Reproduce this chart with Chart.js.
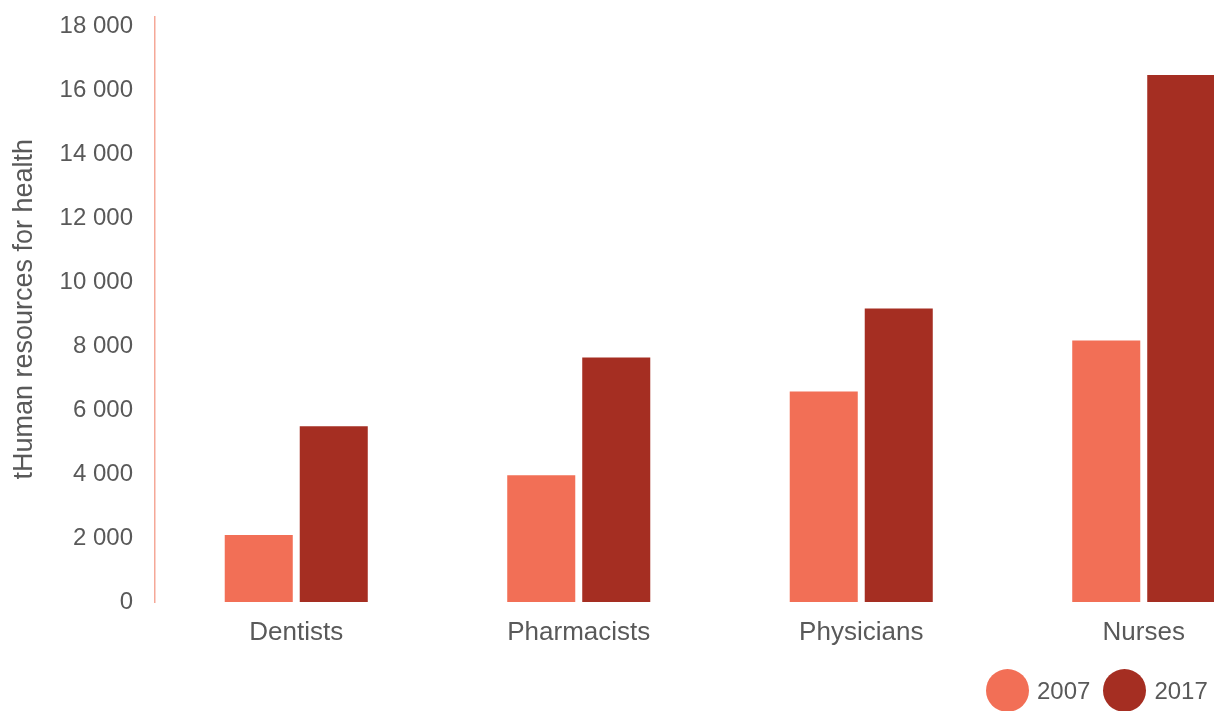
<!DOCTYPE html>
<html>
<head>
<meta charset="utf-8">
<script src="https://cdn.jsdelivr.net/npm/chart.js@4/dist/chart.umd.min.js"></script>
<style>
  html, body { margin: 0; padding: 0; background: #fff; }
  #wrap { position: relative; width: 1214px; height: 711px; overflow: hidden; }
  #wrap canvas { position: absolute; left: 0; top: -20px; }
  #legend { position: absolute; top: 669px; left: 986px; display: flex; align-items: center;
            font-family: "Liberation Sans", Arial, sans-serif; font-size: 24px; color: #595959; }
  #legend .item { display: flex; align-items: center; margin-right: 13px; }
  #legend .dot { width: 43px; height: 43px; border-radius: 50%; margin-right: 8px; }
</style>
</head>
<body>
<div id="wrap">
  <canvas id="chart" width="1300" height="731"></canvas>
  <div id="legend"></div>
</div>
<script>
const categories = ["Dentists", "Pharmacists", "Physicians", "Nurses"];
const years = ["2007", "2017"];
const values2007 = [2090, 3960, 6580, 8170];
const values2017 = [5490, 7640, 9170, 16470];
const yTicks = [0, 2000, 4000, 6000, 8000, 10000, 12000, 14000, 16000, 18000];
const colors = ["#F26F56", "#A52E22"];

const textColor = "#595959";
const fontFamily = "'Liberation Sans', Arial, sans-serif";

function spaced(v) {
    return String(v).replace(/\B(?=(\d{3})+(?!\d))/g, " ");
}

const chart = new Chart(document.getElementById("chart"), {
    type: "bar",
    data: {
        labels: categories,
        datasets: [
            { label: years[0], data: values2007, backgroundColor: colors[0] },
            { label: years[1], data: values2017, backgroundColor: colors[1] },
        ],
    },
    options: {
        responsive: false,
        animation: false,
        layout: { padding: { top: 16, left: 0, right: 15, bottom: 0 } },
        datasets: {
            bar: { categoryPercentage: 0.531, barPercentage: 0.907 },
        },
        plugins: {
            legend: { display: false },
            tooltip: { enabled: false },
        },
        scales: {
            x: {
                grid: { display: false, drawTicks: false },
                border: { display: false },
                ticks: {
                    color: textColor,
                    padding: 15,
                    font: { family: fontFamily, size: 26 },
                },
                afterFit(scale) { scale.height = 109; },
            },
            y: {
                min: 0,
                max: 18300,
                grid: { display: false, drawTicks: false },
                border: { display: true, color: "#F5A898", width: 1.5 },
                afterBuildTicks(scale) {
                    scale.ticks = yTicks.map(v => ({ value: v }));
                },
                ticks: {
                    color: textColor,
                    padding: 22,
                    font: { family: fontFamily, size: 24 },
                    callback: v => spaced(v),
                },
                title: {
                    display: true,
                    text: "tHuman resources for health",
                    color: textColor,
                    padding: { top: 8, bottom: 0 },
                    font: { family: fontFamily, size: 27 },
                },
                afterFit(scale) { scale.width = 155; },
            },
        },
    },
});

// legend built from the datasets
const legend = document.getElementById("legend");
chart.data.datasets.forEach(ds => {
    const item = document.createElement("div");
    item.className = "item";
    const dot = document.createElement("span");
    dot.className = "dot";
    dot.style.background = ds.backgroundColor;
    const label = document.createElement("span");
    label.textContent = ds.label;
    item.appendChild(dot);
    item.appendChild(label);
    legend.appendChild(item);
});
</script>
</body>
</html>
